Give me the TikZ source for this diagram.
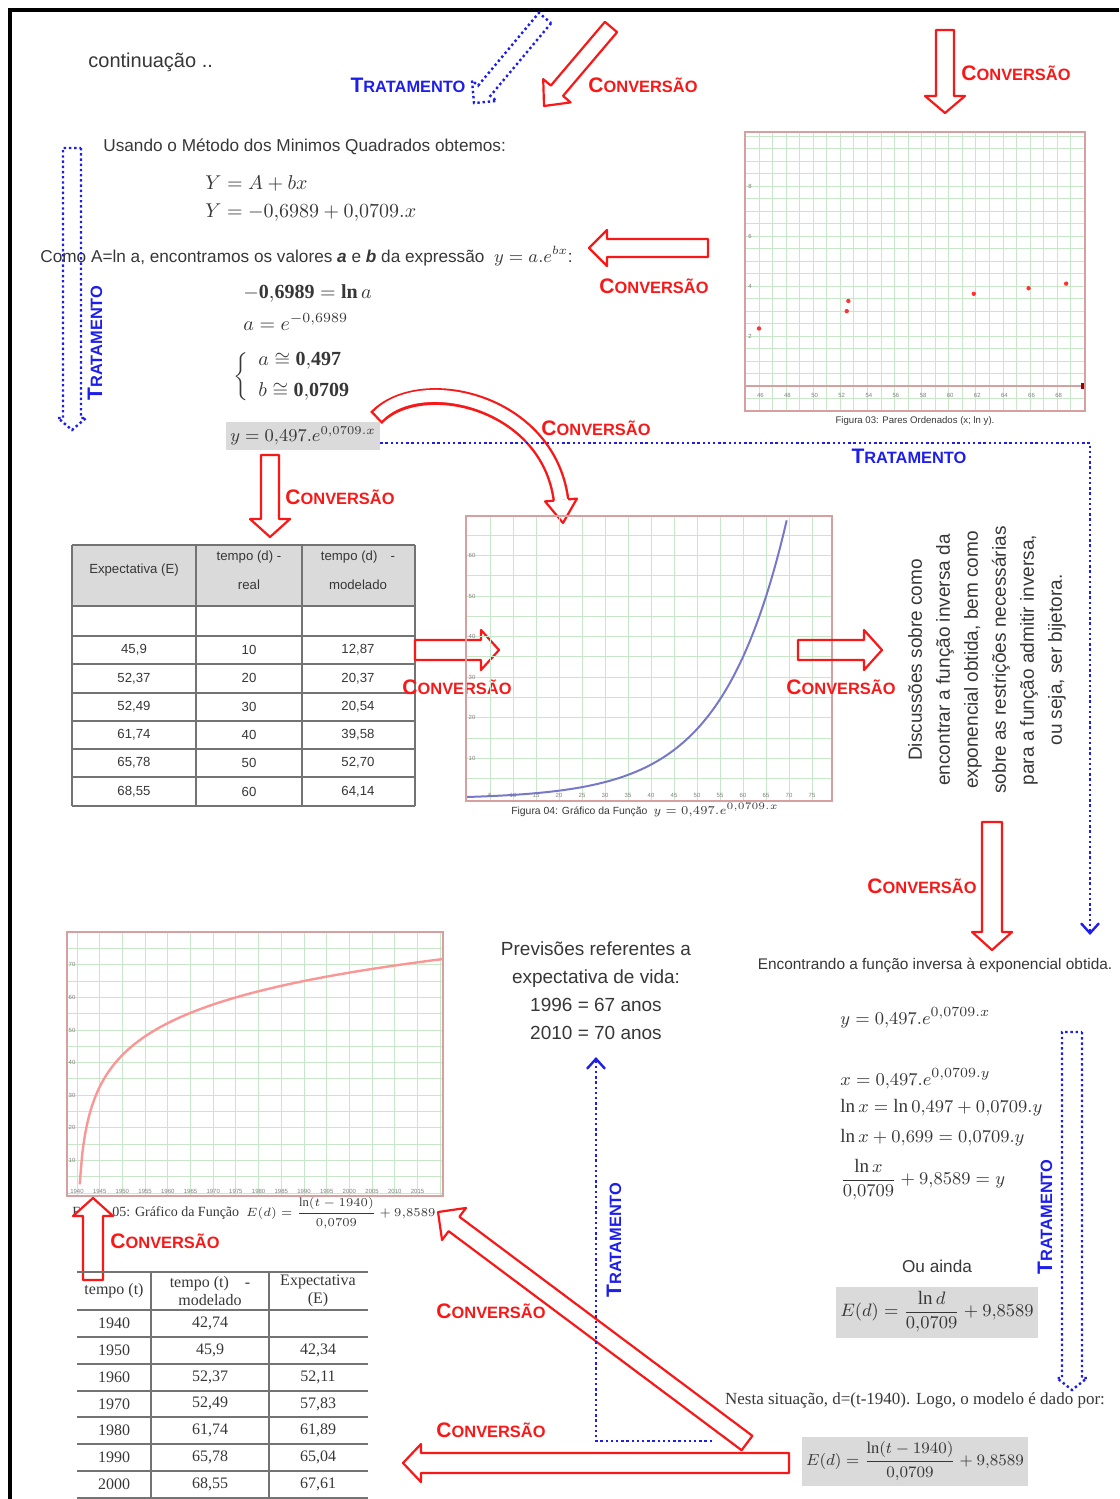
\documentclass[tikz,border=0pt]{standalone}
\usepackage{amsmath}
\usepackage{fontspec}
\setmainfont{Liberation Serif}
\setsansfont{Liberation Sans}
\usetikzlibrary{arrows.meta, calc}
\definecolor{convRed}{RGB}{248,24,24}
\definecolor{tratBlue}{RGB}{30,30,235}
\definecolor{textGray}{RGB}{55,55,55}
\definecolor{gridGreen}{RGB}{200,230,200}
\definecolor{frameRose}{RGB}{215,160,160}
\definecolor{cellGray}{RGB}{218,218,218}
\definecolor{ruleGray}{RGB}{115,115,115}
\definecolor{curveBlue}{RGB}{120,120,200}
\definecolor{curveRose}{RGB}{250,150,150}
\newcommand\convword{{\fontsize{10.5}{12}\selectfont C}{\fontsize{8.2}{10}\selectfont ONVERSÃO}}
\newcommand\tratword{{\fontsize{10.5}{12}\selectfont T}{\fontsize{8.2}{10}\selectfont RATAMENTO}}
\newcommand\dc{{,}}
% block arrow: [style]{tail}{tip}{shaft half}{head half}{head length}
\newcommand\blockarrow[6][]{%
  \coordinate (ba-neck) at ($(#3)!#6!(#2)$);
  \draw[#1] ($(#2)!#4!90:(#3)$) -- ($(ba-neck)!#4!90:(#3)$) -- ($(ba-neck)!#5!90:(#3)$) -- (#3)
    -- ($(ba-neck)!#5!-90:(#3)$) -- ($(ba-neck)!#4!-90:(#3)$) -- ($(#2)!#4!-90:(#3)$) -- cycle;}

\begin{document}
\begin{tikzpicture}[x=0.5pt, y=-0.5pt,
  every node/.style={inner sep=0pt},
  body/.style={font=\sffamily\fontsize{8.6}{10.5}\selectfont, text=textGray},
  eqn/.style={font=\fontsize{10}{12}\selectfont, text=textGray},
  eqr/.style={font=\fontsize{9.5}{11}\selectfont, text=textGray},
  ser/.style={font=\rmfamily\fontsize{8.5}{10}\selectfont, text=textGray},
  cell/.style={font=\sffamily\fontsize{6.6}{14.5}\selectfont, text=textGray, align=center},
  tcell/.style={font=\rmfamily\fontsize{8}{9}\selectfont, text=textGray, align=center},
  caption/.style={font=\sffamily\fontsize{4.8}{6}\selectfont, text=textGray},
  tick/.style={font=\sffamily\fontsize{3}{3}\selectfont, text=gray},
  convlbl/.style={text=convRed, font=\sffamily\bfseries},
  tratlbl/.style={text=tratBlue, font=\sffamily\bfseries},
  grayBox/.style={fill=cellGray, inner sep=2pt},
  convarrow/.style={draw=convRed, line width=1.1pt, line join=round},
  tratarrow/.style={draw=tratBlue, line width=1.2pt, dash pattern=on 1.2pt off 1.4pt},
  tratline/.style={tratarrow, -{Straight Barb[length=5pt, width=9pt]}},
  gridline/.style={draw=gridGreen, line width=0.5pt},
  frame/.style={draw=frameRose, line width=0.9pt},
  rule/.style={draw=ruleGray, line width=1pt}
]
\useasboundingbox (0,0) rectangle (1119,1499);
\draw[line width=2.2pt] (10,1499) -- (10,10) -- (1119,10);

% Top row
\node[body, font=\sffamily\fontsize{10}{12}\selectfont, anchor=west] (cont) at (88,62) {continuação ..};
\node[tratlbl] (trat1) at (408,85) {\tratword};
\node[convlbl] (conv1) at (643,85) {\convword};
\node[convlbl] (conv2) at (1016,73) {\convword};
\coordinate (a1s) at (545,18);  \coordinate (a1e) at (474,103);
\blockarrow[tratarrow]{a1s}{a1e}{4pt}{8pt}{8pt}
\coordinate (a2s) at (611,27);  \coordinate (a2e) at (544,106);
\blockarrow[convarrow]{a2s}{a2e}{4pt}{9pt}{10pt}
\coordinate (a3s) at (945,30);  \coordinate (a3e) at (945,113);
\blockarrow[convarrow]{a3s}{a3e}{4.5pt}{10pt}{8.5pt}

% Least squares
\node[body, anchor=west] (usando) at (103,147) {Usando o Método dos Minimos Quadrados obtemos:};
\node[eqn, anchor=west] (eqa) at (205,183) {$Y = A + bx$};
\node[eqn, anchor=west] (eqb) at (205,213) {$Y = -0\dc6989 + 0\dc0709.x$};
\node[body, anchor=west] (como) at (40,256) {Como A=ln a, encontramos os valores \textbf{\textit{a}} e \textbf{\textit{b}} da expressão \ $y = a.e^{bx}$:};
\node[eqn, anchor=west] (eqc) at (243,294) {$-\mathbf{0\dc6989} = \mathbf{ln}\,a$};
\node[eqn, anchor=west] (eqd) at (243,322) {$a = e^{-0\dc6989}$};
\node[eqn, anchor=east] (brace) at (251,377) {$\left\{\rule[-10pt]{0pt}{20pt}\right.$};
\node[eqn, anchor=west] (eqe1) at (258,361) {$a \cong \mathbf{0\dc497}$};
\node[eqn, anchor=west] (eqe2) at (258,391) {$b \cong \mathbf{0\dc0709}$};
\node[eqn, grayBox, font=\fontsize{9}{11}\selectfont, minimum width=70pt, minimum height=14pt] (ybox) at (303,436) {$y = 0\dc497.e^{0\dc0709.x}$};
\coordinate (a4s) at (708,248); \coordinate (a4e) at (589,248);
\blockarrow[convarrow]{a4s}{a4e}{4.5pt}{9pt}{9pt}
\node[convlbl] (conv3) at (654,286) {\convword};
\coordinate (a12s) at (72,148); \coordinate (a12e) at (72,430);
\blockarrow[tratarrow]{a12s}{a12e}{4.5pt}{7pt}{6pt}
\node[tratlbl, rotate=90] (trat2) at (95,343) {\tratword};

% Figura 03
\foreach \k in {0,...,24} \draw[gridline] ({759+\k*13.56},132) -- ({759+\k*13.56},411);
\foreach \k in {-1,...,20} \draw[gridline] (745,{386-\k*12.5}) -- (1085,{386-\k*12.5});
\draw[frameRose, line width=1.2pt] (745,386) -- (1085,386);
\fill[red!60!black] (1081,383) rectangle (1086,389);
\foreach \v in {46,48,...,68} \node[tick] at ({759+(\v-45.9)*13.56},395) {\v};
\foreach \v in {2,4,6,8} \node[tick] at (750,{386-\v*25}) {\v};
\foreach \ev/\dv in {45.9/10, 52.37/20, 52.49/30, 61.74/40, 65.78/50, 68.55/60}
  \fill[red!80] ({759+(\ev-45.9)*13.56},{386-ln(\dv)*25}) circle (1.1pt);
\draw[frame] (745,132) rectangle (1085,411);
\node[caption] (cap03) at (915,421) {Figura 03: Pares Ordenados (x; ln y).};

% Curved arrow from the model to its graph
\node[convlbl] (conv4) at (596,428) {\convword};
\coordinate (cvs) at (376,418); \coordinate (cvn) at (561,500); \coordinate (cvt) at (563,523);
\draw[convRed, line width=8.4pt] (cvs) .. controls (420,372) and (548,400) .. (cvn);
\draw[white, line width=6pt, shorten <=1.2pt] (cvs) .. controls (420,372) and (548,400) .. (cvn);
\fill[white] ($(cvn)!8pt!90:(cvt)$) -- (cvt) -- ($(cvn)!8pt!-90:(cvt)$) -- cycle;
\draw[convarrow] ($(cvn)!3.6pt!90:(cvt)$) -- ($(cvn)!8pt!90:(cvt)$) -- (cvt) -- ($(cvn)!8pt!-90:(cvt)$) -- ($(cvn)!3.6pt!-90:(cvt)$);
\node[tratlbl] (trat3) at (909,456) {\tratword};

% Table (d)
\coordinate (a5s) at (270,455); \coordinate (a5e) at (270,537);
\blockarrow[convarrow]{a5s}{a5e}{4.5pt}{10pt}{9pt}
\node[convlbl] (conv5) at (340,497) {\convword};
\fill[cellGray] (72,545) rectangle (415,606);
\foreach \ry in {545,606,636,664,693,721,749,777,806} \draw[rule] (72,\ry) -- (415,\ry);
\foreach \cx in {72,196,302,415} \draw[rule] (\cx,545) -- (\cx,806);
\node[cell] (h1) at (134,570) {Expectativa (E)};
\node[cell] (h2) at (249,570) {tempo (d) -\\real};
\node[cell] (h3) at (358,570) {tempo (d)\quad -\\modelado};
\foreach \ev/\rv/\mv [count=\i] in {{45,9}/10/{12,87}, {52,37}/20/{20,37}, {52,49}/30/{20,54}, {61,74}/40/{39,58}, {65,78}/50/{52,70}, {68,55}/60/{64,14}} {
  \node[cell] at (134,{650+(\i-1)*28.3}) {\ev};
  \node[cell] at (249,{650+(\i-1)*28.3}) {\rv};
  \node[cell] at (358,{650+(\i-1)*28.3}) {\mv};
}
\coordinate (a6s) at (415,650); \coordinate (a6e) at (499,650);
\blockarrow[convarrow]{a6s}{a6e}{5pt}{10pt}{9pt}
\node[convlbl] (conv6) at (457,687) {\convword};

% Figura 04
\foreach \k in {1,...,15} \draw[gridline] ({467+\k*23},516) -- ({467+\k*23},801);
\foreach \k in {1,...,13} \draw[gridline] (466,{799-\k*20.3}) -- (832,{799-\k*20.3});
\foreach \v in {10,20,...,60} \node[tick] at (472,{799-\v*4.06}) {\v};
\foreach \v in {5,10,...,75} \node[tick] at ({467+\v*4.6},795) {\v};
\draw[curveBlue, line width=1pt, domain=0:69.5, samples=80, smooth] plot ({467+\x*4.6},{799-0.497*exp(0.0709*\x)*4.06});
\draw[frame] (466,516) rectangle (832,801);
\node[caption, font=\sffamily\fontsize{5.2}{6}\selectfont] (cap04) at (645,810) {Figura 04: Gráfico da Função \ {\fontsize{6}{7}\selectfont$y = 0\dc497.e^{0\dc0709.x}$}};
\coordinate (a7s) at (798,650); \coordinate (a7e) at (882,650);
\blockarrow[convarrow]{a7s}{a7e}{5pt}{10pt}{9pt}
\node[convlbl] (conv7) at (841,687) {\convword};

% Discussion
\node[body, font=\sffamily\fontsize{9.5}{14}\selectfont, align=center, rotate=90] (discuss) at (987,660) {Discussões sobre como\\encontrar a função inversa da\\exponencial obtida, bem como\\sobre as restrições necessárias\\para a função admitir inversa,\\ou seja, ser bijetora.};
\coordinate (a8s) at (992,822); \coordinate (a8e) at (992,950);
\blockarrow[convarrow]{a8s}{a8e}{5pt}{10pt}{9pt}
\node[convlbl] (conv8) at (922,886) {\convword};

% Inverse function
\node[body, font=\sffamily\fontsize{7.7}{9}\selectfont] (encontr) at (935,965) {Encontrando a função inversa à exponencial obtida.};
\node[eqr, anchor=west] (eqf) at (840,1018) {$y = 0\dc497.e^{0\dc0709.x}$};
\node[eqr, anchor=west] (eqg) at (840,1079) {$x = 0\dc497.e^{0\dc0709.y}$};
\node[eqr, anchor=west] (eqh) at (840,1108) {$\ln x = \ln 0\dc497 + 0\dc0709.y$};
\node[eqr, anchor=west] (eqi) at (840,1138) {$\ln x + 0\dc699 = 0\dc0709.y$};
\node[eqr, anchor=west] (eqj) at (840,1180) {$\dfrac{\ln x}{0\dc0709} + 9\dc8589 = y$};
\node[body] (ouainda) at (937,1266) {Ou ainda};
\node[eqr, grayBox, minimum width=95pt, minimum height=25.5pt] (edbox) at (937,1312) {$E(d) = \dfrac{\ln d}{0\dc0709} + 9\dc8589$};
\coordinate (a13s) at (1072,1032); \coordinate (a13e) at (1072,1390);
\blockarrow[tratarrow]{a13s}{a13e}{5pt}{7.5pt}{6pt}
\node[tratlbl, rotate=90] (trat5) at (1045,1217) {\tratword};
\node[ser] (nesta) at (915,1400) {Nesta situação, d=(t-1940). Logo, o modelo é dado por:};
\node[eqr, grayBox, font=\fontsize{8.2}{10}\selectfont, minimum width=98pt, minimum height=24.5pt] (etbox) at (915,1461) {$E(d) = \dfrac{\ln(t-1940)}{0\dc0709} + 9\dc8589$};

% Predictions
\node[body, font=\sffamily\fontsize{9.5}{14}\selectfont, align=center] (prev) at (596,991) {Previsões referentes a\\expectativa de vida:\\1996 = 67 anos\\2010 = 70 anos};

% Figura 05
\foreach \k in {0,...,16} \draw[gridline] ({77+\k*22.7},932) -- ({77+\k*22.7},1196);
\foreach \k in {0,...,15} \draw[gridline] (67,{1193-\k*16.3}) -- (443,{1193-\k*16.3});
\foreach \v in {10,20,...,70} \node[tick] at (72,{1193-\v*3.26}) {\v};
\foreach \k [evaluate=\k as \yr using int(1940+5*\k)] in {0,...,15} \node[tick] at ({77+\k*22.7},1191) {\yr};
\draw[curveRose, line width=1.2pt, domain=0.6:80.5, samples=150, smooth] plot ({77+\x*4.54},{1193-(ln(\x)/0.0709+9.8589)*3.26});
\draw[frame] (67,932) rectangle (443,1196);
\node[ser, font=\rmfamily\fontsize{7}{8}\selectfont, anchor=west] (cap05) at (72,1213) {Figura 05: Gráfico da Função \ {\fontsize{6.3}{7}\selectfont$E(d) = \dfrac{\ln(t-1940)}{0\dc0709} + 9\dc8589$}};
\coordinate (a9s) at (93,1280); \coordinate (a9e) at (93,1198);
\blockarrow[convarrow, fill=white]{a9s}{a9e}{5pt}{10pt}{9pt}
\node[convlbl] (conv9) at (165,1241) {\convword};

% Table (t)
\foreach \ry in {1272,1310,1337,1364,1391,1417,1444,1471,1498} \draw[rule] (77,\ry) -- (368,\ry);
\foreach \cx in {151,269} \draw[rule] (\cx,1272) -- (\cx,1498);
\node[tcell] (g1) at (114,1291) {tempo (t)};
\node[tcell] (g2) at (210,1291) {tempo (t)\quad -\\modelado};
\node[tcell] (g3) at (318,1291) {Expectativa\\(E)};
\foreach \tv/\mv/\ev [count=\i] in {1940/{42,74}/{}, 1950/{45,9}/{42,34}, 1960/{52,37}/{52,11}, 1970/{52,49}/{57,83}, 1980/{61,74}/{61,89}, 1990/{65,78}/{65,04}, 2000/{68,55}/{67,61}} {
  \node[tcell] at (114,{1323.5+(\i-1)*26.8}) {\tv};
  \node[tcell] at (210,{1323.5+(\i-1)*26.8}) {\mv};
  \node[tcell] at (318,{1323.5+(\i-1)*26.8}) {\ev};
}

% Bottom arrows
\coordinate (a10s) at (789,1463); \coordinate (a10e) at (403,1463);
\blockarrow[convarrow]{a10s}{a10e}{5pt}{9.5pt}{9pt}
\node[convlbl] (conv11) at (491,1430) {\convword};
\coordinate (a11s) at (747,1443); \coordinate (a11e) at (438,1212);
\blockarrow[convarrow]{a11s}{a11e}{4.5pt}{10pt}{10pt}
\node[convlbl] (conv10) at (491,1311) {\convword};
\node[tratlbl, rotate=90] (trat4) at (614,1240) {\tratword};

% Treatment connectors
\coordinate (t1end) at (1090,935);
\draw[tratline] ([yshift=-3.5pt]ybox.east) -| (t1end);
\coordinate (t2start) at (712,1441); \coordinate (t2end) at (596,1057);
\draw[tratline] (t2start) -| (t2end);
\end{tikzpicture}
\end{document}
